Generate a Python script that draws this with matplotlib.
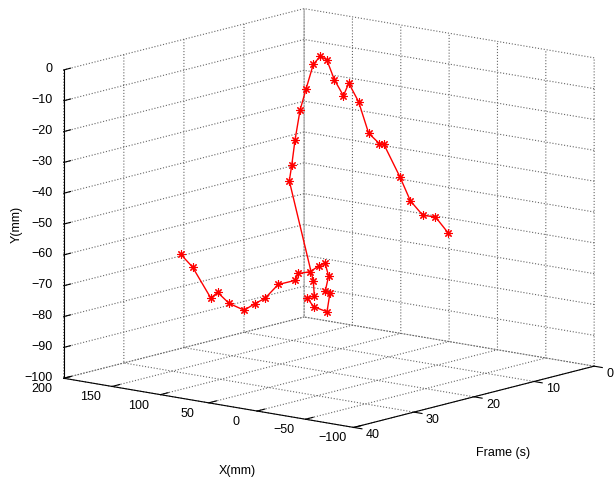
import matplotlib

matplotlib.use("Agg")
import matplotlib.pyplot as plt
from matplotlib.transforms import ScaledTranslation
from mpl_toolkits.mplot3d import proj3d

# trajectory samples: time (s), X (mm), Y (mm)
frame_s = [0.5, 1.5, 2.4, 3.4, 4.3, 5.3, 6.2, 7.2, 8.1, 9.1,
           10.0, 11.0, 11.9, 12.9, 13.8, 14.8, 15.8, 16.7, 17.6, 18.6,
           19.5, 20.5, 21.4, 22.4, 23.3, 24.3, 25.2, 26.2, 27.1, 28.1,
           29.0, 30.0, 30.9, 31.9, 32.8, 33.8, 34.7, 35.7, 36.6, 37.6,
           38.5, 39.5]
x_mm = [48.2, 54.8, 62.3, 68.9, 73.9, 84.6, 83.6, 88.5, 93.3, 97.2,
        97.2, 100.3, 102.6, 103.0, 104.7, 106.0, 106.0, 105.6, 103.4, 99.7,
        69.3, 62.0, 64.0, 50.9, 31.5, 22.2, 21.5, 11.8, 10.0, 10.3,
        13.4, 19.6, 17.5, 28.5, 36.7, 40.8, 46.3, 55.6, 62.0, 62.8,
        76.1, 82.0]
y_mm = [-64.3, -59.1, -58.5, -53.7, -45.9, -35.2, -34.5, -30.9, -20.5, -14.2,
        -17.8, -12.3, -5.5, -3.9, -6.1, -13.7, -20.1, -29.3, -36.9, -41.3,
        -71.7, -75.7, -75.9, -77.6, -77.8, -70.6, -69.6, -63.7, -58.9, -59.4,
        -61.0, -61.4, -63.1, -64.5, -69.0, -70.4, -72.4, -70.2, -66.5, -67.9,
        -58.1, -53.8]

x_ticks = [-100, -50, 0, 50, 100, 150, 200]
frame_ticks = [0, 10, 20, 30, 40]
y_ticks = [-100, -90, -80, -70, -60, -50, -40, -30, -20, -10, 0]

plt.rcParams["font.family"] = ["Liberation Sans", "DejaVu Sans"]
plt.rcParams["font.size"] = 9
plt.rcParams["grid.linestyle"] = ":"
plt.rcParams["grid.color"] = "#666666"
plt.rcParams["grid.linewidth"] = 0.8

fig = plt.figure(figsize=(6.16, 4.79), dpi=100)
ax = fig.add_axes([0.0235, 0.0313, 1, 1], projection="3d", proj_type="ortho")
ax.plot(x_mm, frame_s, y_mm, color="red", lw=1, marker=(8, 2, 0), ms=6, mew=0.8)

ax.set_xlim(-100, 200, view_margin=0)
ax.set_ylim(0, 40, view_margin=0)
ax.set_zlim(-100, 0, view_margin=0)
ax.set_xticks(x_ticks)
ax.set_yticks(frame_ticks)
ax.set_zticks(y_ticks)
ax.view_init(elev=12, azim=129.2)
ax.set_box_aspect((374, 380, 315), zoom=1.256)

for axis in (ax.xaxis, ax.yaxis, ax.zaxis):
    # tick labels are placed by hand below, MATLAB-style
    axis.set_tick_params(label1On=False, label2On=False)
    axis.set_pane_color((1, 1, 1, 0))
    axis.pane.set_edgecolor("none")
    axis.line.set_color("black")
    axis.line.set_linewidth(0.8)
    axis._axinfo["tick"]["linewidth"] = {True: 0.8, False: 0.5}
    axis._axinfo["tick"]["color"] = "black"
ax.xaxis._axinfo["tick"]["inward_factor"] = 0.0
ax.xaxis._axinfo["tick"]["outward_factor"] = 0.4
ax.yaxis._axinfo["tick"]["inward_factor"] = 0.35
ax.yaxis._axinfo["tick"]["outward_factor"] = 0.0
ax.zaxis._axinfo["tick"]["inward_factor"] = 0.0
ax.zaxis._axinfo["tick"]["outward_factor"] = 0.35

ax.zaxis.set_ticks_position("upper")

M = ax.get_proj()


def tick_label(x, y, z, s, dx, dy, **kw):
    px, py, _ = proj3d.proj_transform(x, y, z, M)
    tr = ax.transData + ScaledTranslation(dx / 100, dy / 100, fig.dpi_scale_trans)
    ax.text2D(px, py, s.replace("-", "\u2212"), transform=tr, va="center", **kw)


for v in x_ticks:
    tick_label(v, 40, -100, f"{v}", -21.5, -11, ha="center")
for v in frame_ticks:
    tick_label(-100, v, -100, f"{v}", 12, -8, ha="left")
for v in y_ticks:
    tick_label(200, 40, v, f"{v}", -11.5, 0.5, ha="right")

fig.text(237 / 616, 1 - 471 / 479, "X(mm)", ha="center", va="center")
fig.text(503 / 616, 1 - 453 / 479, "Frame (s)", ha="center", va="center")
fig.text(17 / 616, 1 - 224 / 479, "Y(mm)", ha="center", va="center", rotation=90)

fig.savefig("out.png", dpi=100)
